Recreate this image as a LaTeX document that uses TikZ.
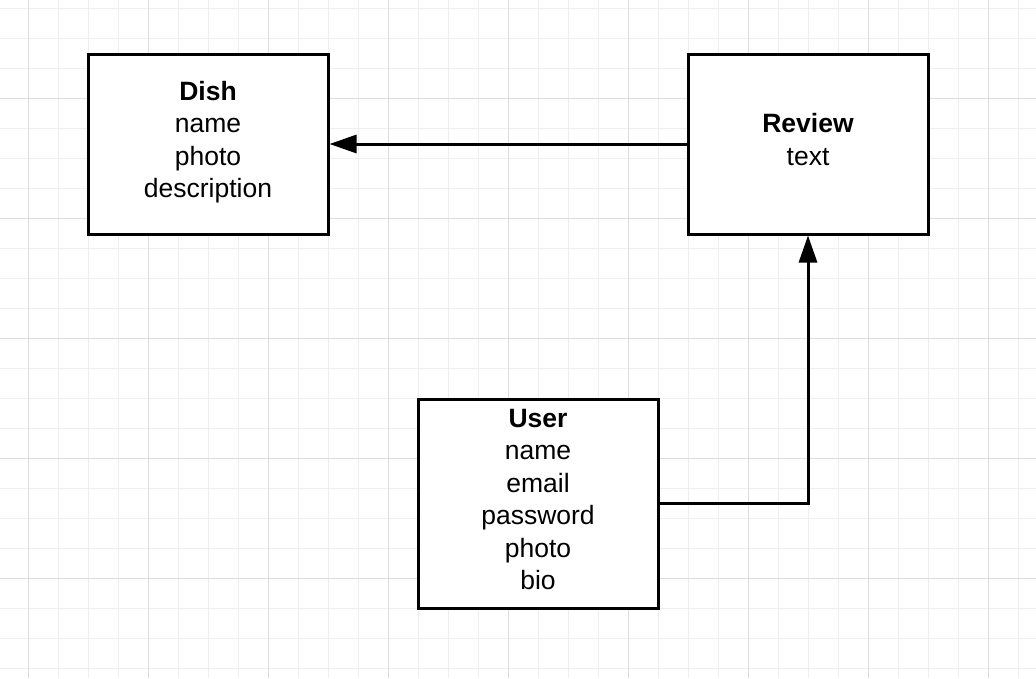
\documentclass[tikz,border=0pt]{standalone}
\usepackage{fontspec}
\setmainfont{Liberation Sans}
\usetikzlibrary{arrows.meta}
\definecolor{gridminor}{HTML}{EEEEEE}
\definecolor{gridmajor}{HTML}{DDDDDD}
\tikzset{
  entity/.style={draw=black, line width=3pt, fill=white, minimum width=240pt, inner sep=0pt},
  entitytext/.style={align=center, font=\fontsize{26.5pt}{32.5pt}\selectfont, inner sep=0pt},
  conn/.style={line width=3pt, -{Triangle[length=27pt,width=18pt]}},
}
\begin{document}
\begin{tikzpicture}[x=1pt,y=-1pt]
\useasboundingbox (0,0) rectangle (1036,678);
\fill[white] (0,0) rectangle (1036,678);
% grid
\foreach \x in {28,58,...,1018} \draw[gridminor, line width=1pt] (\x,0) -- (\x,678);
\foreach \y in {8,38,...,668} \draw[gridminor, line width=1pt] (0,\y) -- (1036,\y);
\foreach \x in {28,148,...,988} \draw[gridmajor, line width=1pt] (\x,0) -- (\x,678);
\foreach \y in {98,218,...,578} \draw[gridmajor, line width=1pt] (0,\y) -- (1036,\y);
% entities
\node[entity, minimum height=180pt] (dish) at (208,144) {};
\node[entity, minimum height=180pt] (rev) at (808,144) {};
\node[entity, minimum height=209pt] (user) at (538,503.5) {};
\node[entitytext] (dishtext) at ([yshift=2pt]dish.center) {\textbf{Dish}\\name\\photo\\description};
\node[entitytext] (revtext) at ([yshift=4.5pt]rev.center) {\textbf{Review}\\text};
\node[entitytext] (usertext) at ([yshift=4pt]user.center) {\textbf{User}\\name\\email\\password\\photo\\bio};
% connectors
\draw[conn] (rev.west) -- (dish.east);
\draw[conn] (user.east) -| (rev.south);
\end{tikzpicture}
\end{document}
